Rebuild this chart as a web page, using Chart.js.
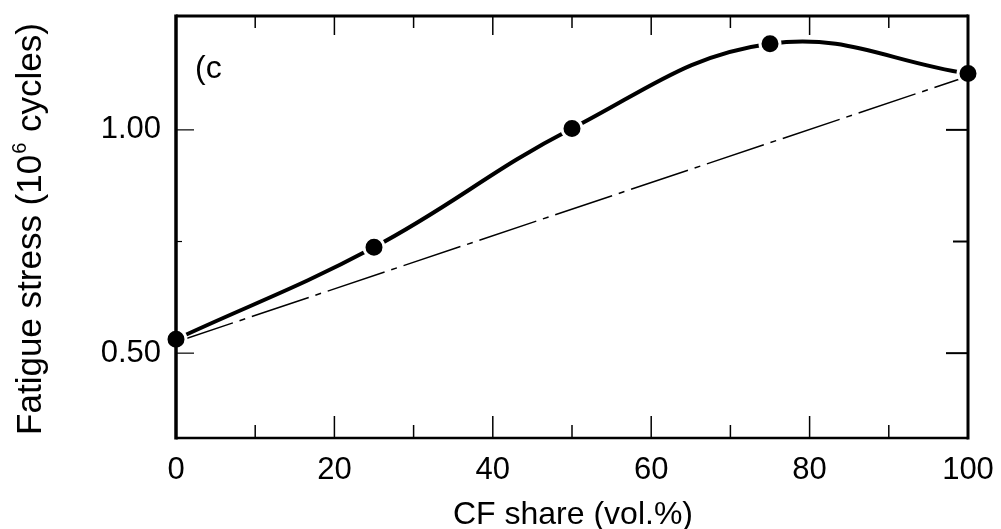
<!DOCTYPE html>
<html>
<head>
<meta charset="utf-8">
<title>Fatigue stress vs CF share</title>
<script src="https://cdn.jsdelivr.net/npm/chart.js@4.4.1/dist/chart.umd.min.js"></script>
<style>
  html, body { margin: 0; padding: 0; background: #fff; }
</style>
</head>
<body>
<canvas id="fatigueChart" width="1001" height="529"></canvas>
<script>
const cfShare = [0, 25, 50, 75, 100];
const fatigueStress = [0.531, 0.737, 1.003, 1.193, 1.126];
const mixShare = [0, 100];
const mixStress = [0.525, 1.12];
const xTickLabels = [0, 20, 40, 60, 80, 100];
const xMinorTicks = [10, 30, 50, 70, 90];
const yTickLabels = [0.50, 1.00];
const yMinorTicks = [0.75];
const panelTag = "(c";
const xTitle = "CF share (vol.%)";
const yTitle = ["Fatigue stress (10", "6", " cycles)"];

const FONT = "'Liberation Sans', Arial, sans-serif";

const toPoints = (xs, ys) => xs.map((v, i) => ({ x: v, y: ys[i] }));

// frame, inward ticks, titles and the panel tag
const framePlugin = {
    id: 'frame',
    afterDatasetsDraw(chart) {
        const { ctx, chartArea: a, scales: { x, y } } = chart;
        const line = (x1, y1, x2, y2, w) => {
            ctx.lineWidth = w;
            ctx.beginPath();
            ctx.moveTo(x1, y1);
            ctx.lineTo(x2, y2);
            ctx.stroke();
        };
        ctx.save();
        ctx.strokeStyle = '#000';
        line(a.left, a.top - 1.5, a.left, a.bottom + 1.5, 3.5);
        line(a.right, a.top - 1.5, a.right, a.bottom + 1.5, 3);
        line(a.left, a.top, a.right, a.top, 3);
        line(a.left, a.bottom, a.right, a.bottom, 2.5);

        xTickLabels.slice(1, -1).forEach(v => {
            const px = x.getPixelForValue(v);
            line(px, a.bottom, px, a.bottom - 22, 1.5);
            line(px, a.top, px, a.top + 19, 1.5);
        });
        xMinorTicks.forEach(v => {
            const px = x.getPixelForValue(v);
            line(px, a.bottom, px, a.bottom - 13, 1.5);
            line(px, a.top, px, a.top + 12, 1.5);
        });
        yTickLabels.forEach(v => {
            const py = y.getPixelForValue(v);
            line(a.left, py, a.left + 18, py, 1.2);
            line(a.right, py, a.right - 22, py, 2);
        });
        yMinorTicks.forEach(v => {
            const py = y.getPixelForValue(v);
            line(a.left, py, a.left + 6, py, 1.2);
            line(a.right, py, a.right - 15, py, 2);
        });
        ctx.restore();
    },
    afterDraw(chart) {
        const { ctx, chartArea: a } = chart;
        ctx.save();
        ctx.fillStyle = '#000';
        ctx.textBaseline = 'alphabetic';

        ctx.font = `32px ${FONT}`;
        ctx.textAlign = 'center';
        ctx.fillText(xTitle, (a.left + a.right) / 2 + 1, 524);

        // y title with superscript exponent
        ctx.textAlign = 'left';
        const big = `35px ${FONT}`, small = `20px ${FONT}`;
        ctx.font = big;
        const w0 = ctx.measureText(yTitle[0]).width;
        const w2 = ctx.measureText(yTitle[2]).width;
        ctx.font = small;
        const w1 = ctx.measureText(yTitle[1]).width + 2;
        const total = w0 + w1 + w2;
        ctx.translate(41, (a.top + a.bottom) / 2 + 2);
        ctx.rotate(-Math.PI / 2);
        let cx = -total / 2;
        ctx.font = big;
        ctx.fillText(yTitle[0], cx, 0);
        cx += w0 + 1;
        ctx.font = small;
        ctx.fillText(yTitle[1], cx, -15);
        cx += w1 - 1;
        ctx.font = big;
        ctx.fillText(yTitle[2], cx, 0);
        ctx.restore();

        ctx.save();
        ctx.beginPath();
        ctx.rect(a.left + 10, a.top, 42, 80);
        ctx.clip();
        ctx.fillStyle = '#000';
        ctx.font = `32px 'Liberation Sans Narrow', ${FONT}`;
        ctx.textAlign = 'left';
        ctx.textBaseline = 'alphabetic';
        ctx.fillText(panelTag, a.left + 19, a.top + 62);
        ctx.restore();
    }
};

const ctx = document.getElementById('fatigueChart').getContext('2d');
new Chart(ctx, {
    type: 'line',
    data: {
        datasets: [
            {
                data: toPoints(cfShare, fatigueStress),
                borderColor: '#000',
                borderWidth: 4,
                tension: 0.4,
                pointRadius: 10,
                pointBackgroundColor: '#000',
                pointBorderColor: '#fff',
                pointBorderWidth: 3,
                clip: false
            },
            {
                data: toPoints(mixShare, mixStress),
                borderColor: '#000',
                borderWidth: 1.5,
                borderDash: [60, 7, 6, 7],
                pointRadius: 0,
                clip: false
            }
        ]
    },
    options: {
        responsive: false,
        devicePixelRatio: 1,
        animation: false,
        layout: { padding: { left: 0, right: 33, top: 16, bottom: 0 } },
        plugins: { legend: { display: false }, tooltip: { enabled: false } },
        scales: {
            x: {
                type: 'linear',
                min: 0,
                max: 100,
                afterBuildTicks: s => { s.ticks = xTickLabels.map(v => ({ value: v })); },
                afterFit: s => { s.height = 91; s.paddingLeft = 0; s.paddingRight = 0; },
                grid: { display: false, drawTicks: false },
                border: { display: false },
                ticks: { color: '#000', padding: 14, maxRotation: 0, font: { family: FONT, size: 31 }, callback: v => v }
            },
            y: {
                min: 0.31,
                max: 1.255,
                afterBuildTicks: s => { s.ticks = yTickLabels.map(v => ({ value: v })); },
                afterFit: s => { s.width = 176; s.paddingTop = 0; s.paddingBottom = 0; },
                grid: { display: false, drawTicks: false },
                border: { display: false },
                ticks: { color: '#000', padding: 15, font: { family: FONT, size: 31 }, callback: v => v.toFixed(2) }
            }
        }
    },
    plugins: [framePlugin]
});
</script>
</body>
</html>
